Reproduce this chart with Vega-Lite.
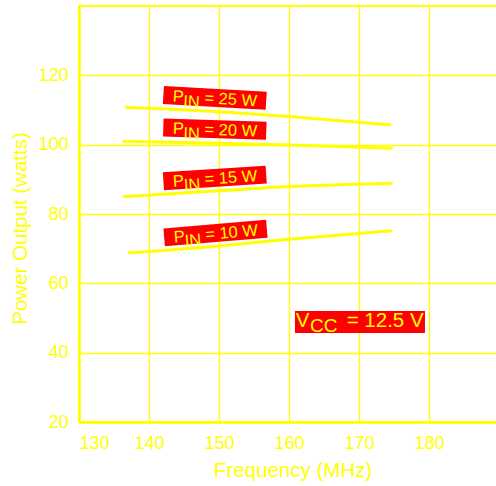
{
  "$schema": "https://vega.github.io/schema/vega-lite/v6.json",
  "autosize": {"type": "none"},
  "padding": {"left": 79, "top": 6, "right": 0, "bottom": 64},
  "width": 420,
  "height": 416,
  "background": "white",
  "config": {
    "view": {"stroke": "#ffff00", "strokeWidth": 2},
    "font": "Liberation Sans",
    "axis": {
      "labelFont": "Liberation Sans",
      "titleFont": "Liberation Sans",
      "labelColor": "#ffff00",
      "titleColor": "#ffff00",
      "domainColor": "#ffff00",
      "domainWidth": 2.5,
      "gridColor": "#ffff00",
      "gridWidth": 1.3,
      "gridOpacity": 1,
      "ticks": false,
      "tickSize": 0,
      "labelFontSize": 18,
      "titleFontSize": 20.5,
      "titleFontWeight": "normal"
    }
  },
  "datasets": {
    "curves": [
      {"pin": "10 W", "freq": 137.0, "power": 68.8},
      {"pin": "10 W", "freq": 150, "power": 70.8},
      {"pin": "10 W", "freq": 160, "power": 72.7},
      {"pin": "10 W", "freq": 174.7, "power": 75.2},
      {"pin": "15 W", "freq": 136.3, "power": 85.0},
      {"pin": "15 W", "freq": 150, "power": 86.7},
      {"pin": "15 W", "freq": 160, "power": 87.9},
      {"pin": "15 W", "freq": 174.8, "power": 88.9},
      {"pin": "20 W", "freq": 136.2, "power": 101.0},
      {"pin": "20 W", "freq": 150, "power": 100.4},
      {"pin": "20 W", "freq": 160, "power": 99.9},
      {"pin": "20 W", "freq": 174.8, "power": 98.95},
      {"pin": "25 W", "freq": 136.6, "power": 110.8},
      {"pin": "25 W", "freq": 150, "power": 109.5},
      {"pin": "25 W", "freq": 160, "power": 108.1},
      {"pin": "25 W", "freq": 174.6, "power": 105.7}
    ],
    "tags": [
      {"pin": "25 W", "label": "= 25 W", "freq": 149.4, "power": 113.5, "tilt": 3.3},
      {"pin": "20 W", "label": "= 20 W", "freq": 149.4, "power": 104.5, "tilt": 1.8},
      {"pin": "15 W", "label": "= 15 W", "freq": 149.4, "power": 90.4, "tilt": -3.7},
      {"pin": "10 W", "label": "= 10 W", "freq": 149.5, "power": 74.5, "tilt": -4.8}
    ],
    "vcc": [
      {"label": "= 12.5 V", "freq": 170.14, "power": 48.85}
    ]
  },
  "encoding": {
    "x": {
      "field": "freq", "type": "quantitative",
      "scale": {"domain": [130, 190], "nice": false, "zero": false},
      "axis": {"values": [130, 140, 150, 160, 170, 180], "labelFlush": true, "labelPadding": 12, "title": "Frequency (MHz)", "titlePadding": 8, "titleX": 213.5}
    },
    "y": {
      "field": "power", "type": "quantitative",
      "scale": {"domain": [20, 140], "nice": false, "zero": false},
      "axis": {"values": [20, 40, 60, 80, 100, 120], "labelPadding": 11, "title": "Power Output (watts)", "titlePadding": 7, "titleY": 222}
    }
  },
  "layer": [
    {
      "data": {"name": "curves"},
      "mark": {"type": "line", "color": "#ffff00", "strokeWidth": 3, "interpolate": "monotone"},
      "encoding": {"detail": {"field": "pin"}}
    },
    {
      "data": {"name": "tags"},
      "mark": {"type": "point", "shape": "M-1,-0.175H1V0.175H-1Z", "size": 10609, "filled": true, "color": "#ff0000", "opacity": 1, "strokeWidth": 0},
      "encoding": {"angle": {"field": "tilt", "type": "quantitative", "scale": null}}
    },
    {
      "data": {"name": "tags"},
      "mark": {"type": "text", "text": "P", "align": "left", "baseline": "alphabetic", "dx": -42, "dy": 6, "fontSize": 16.5, "color": "#ffff00", "font": "Liberation Sans"},
      "encoding": {"angle": {"field": "tilt", "type": "quantitative", "scale": null}}
    },
    {
      "data": {"name": "tags"},
      "mark": {"type": "text", "text": "IN", "align": "left", "baseline": "alphabetic", "dx": -31.3, "dy": 10.5, "fontSize": 16.5, "color": "#ffff00", "font": "Liberation Sans"},
      "encoding": {"angle": {"field": "tilt", "type": "quantitative", "scale": null}}
    },
    {
      "data": {"name": "tags"},
      "mark": {"type": "text", "align": "left", "baseline": "alphabetic", "dx": -10.3, "dy": 6, "fontSize": 16.5, "color": "#ffff00", "font": "Liberation Sans"},
      "encoding": {
        "text": {"field": "label"},
        "angle": {"field": "tilt", "type": "quantitative", "scale": null}
      }
    },
    {
      "data": {"name": "vcc"},
      "mark": {"type": "point", "shape": "M-1,-0.1692H1V0.1692H-1Z", "size": 16900, "filled": true, "color": "#ff0000", "opacity": 1, "strokeWidth": 0}
    },
    {
      "data": {"name": "vcc"},
      "mark": {"type": "text", "text": "V", "align": "left", "baseline": "alphabetic", "dx": -64.3, "dy": 4.7, "fontSize": 20.5, "color": "#ffff00", "font": "Liberation Sans"}
    },
    {
      "data": {"name": "vcc"},
      "mark": {"type": "text", "text": "CC", "align": "left", "baseline": "alphabetic", "dx": -50, "dy": 9.7, "fontSize": 19, "color": "#ffff00", "font": "Liberation Sans"}
    },
    {
      "data": {"name": "vcc"},
      "mark": {"type": "text", "align": "left", "baseline": "alphabetic", "dx": -13.3, "dy": 4.7, "fontSize": 20.5, "color": "#ffff00", "font": "Liberation Sans"},
      "encoding": {"text": {"field": "label"}}
    }
  ]
}
